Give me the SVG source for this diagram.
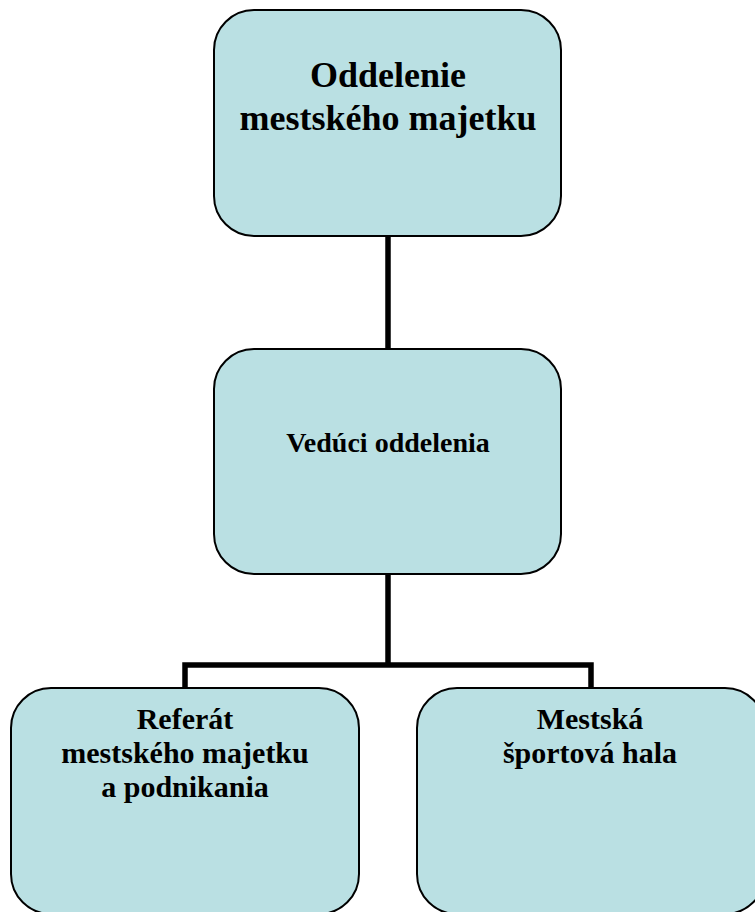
<svg xmlns="http://www.w3.org/2000/svg" width="755" height="912" viewBox="0 0 755 912">
<style>
.box{fill:#BAE0E3;stroke:#000;stroke-width:2}
.conn{fill:none;stroke:#000;stroke-width:5.5;stroke-linejoin:miter;stroke-linecap:butt}
text{font-family:"Liberation Serif","Times New Roman",serif;font-weight:bold;fill:#000;text-anchor:middle}
</style>
<rect width="755" height="912" fill="#fff"/>
<g id="connectors">
<path class="conn" d="M388 236V349"/>
<path class="conn" d="M388 574V665"/>
<path class="conn" d="M185 689V665H591V689"/>
</g>
<g id="node-oddelenie">
<rect class="box" x="214" y="10" width="347" height="226" rx="40" ry="40"/>
<text x="388" y="87" font-size="36">Oddelenie</text>
<text x="388" y="130" font-size="36">mestského majetku</text>
</g>
<g id="node-veduci">
<rect class="box" x="214" y="349" width="347" height="225" rx="40" ry="40"/>
<text x="388" y="452" font-size="28">Vedúci oddelenia</text>
</g>
<g id="node-referat">
<rect class="box" x="11" y="688" width="348" height="226" rx="40" ry="40"/>
<text x="185" y="729" font-size="30">Referát</text>
<text x="185" y="763" font-size="30">mestského majetku</text>
<text x="185" y="797" font-size="30">a podnikania</text>
</g>
<g id="node-hala">
<rect class="box" x="417" y="688" width="348" height="226" rx="40" ry="40"/>
<text x="590" y="729" font-size="30">Mestská</text>
<text x="590" y="763" font-size="30">športová hala</text>
</g>
</svg>
